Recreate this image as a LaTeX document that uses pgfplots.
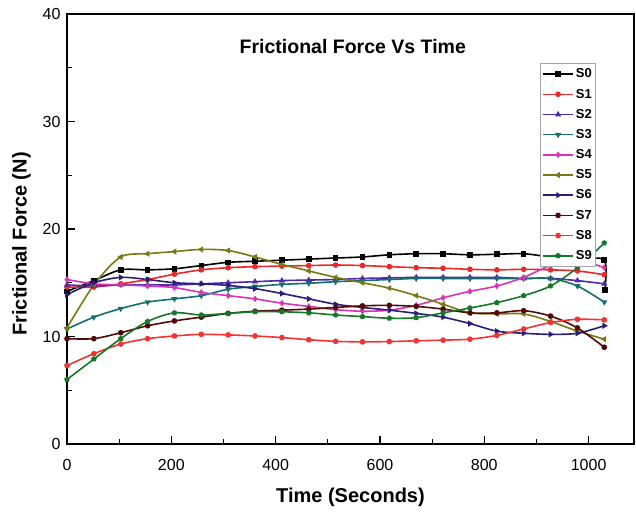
\documentclass[border=0pt]{standalone}
\usepackage{pgfplots}
\pgfplotsset{compat=1.18}
\usepackage{pgfplotstable}
\usepackage{fontspec}
\setmainfont{Liberation Sans}
\definecolor{cS0}{RGB}{0,0,0}
\definecolor{cS1}{RGB}{235,40,40}
\definecolor{cS2}{RGB}{80,40,170}
\definecolor{cS3}{RGB}{20,110,110}
\definecolor{cS4}{RGB}{220,50,180}
\definecolor{cS5}{RGB}{120,120,20}
\definecolor{cS6}{RGB}{40,30,120}
\definecolor{cS7}{RGB}{80,10,10}
\definecolor{cS8}{RGB}{245,50,50}
\definecolor{cS9}{RGB}{20,120,40}
\pgfplotstableread{
x      S1    S2    S3    S4    S5    S6    S7    S8    S9
0      14.6  14.8  10.7  15.3  10.8  13.9  9.8   7.3   6.0
51.5   14.6  14.7  11.8  14.9  14.8  15.0  9.8   8.4   7.9
103    14.9  14.8  12.6  14.8  17.4  15.5  10.35 9.3   9.8
154.5  15.3  14.8  13.2  14.7  17.7  15.3  11.0  9.8   11.4
206    15.8  14.8  13.5  14.55 17.9  15.0  11.45 10.05 12.2
257.5  16.2  14.9  13.8  14.1  18.1  14.9  11.8  10.2  12.0
309    16.4  15.0  14.4  13.8  18.0  14.75 12.15 10.15 12.15
360.5  16.5  15.1  14.65 13.5  17.4  14.45 12.35 10.05 12.3
412    16.55 15.2  14.85 13.1  16.7  14.0  12.45 9.9   12.3
463.5  16.6  15.25 14.95 12.8  16.1  13.5  12.55 9.7   12.2
515    16.65 15.3  15.1  12.5  15.5  13.0  12.7  9.55  12.0
566.5  16.6  15.4  15.2  12.35 15.0  12.7  12.85 9.5   11.85
618    16.5  15.45 15.3  12.45 14.5  12.45 12.9  9.53  11.7
669.5  16.4  15.5  15.4  12.9  13.8  12.15 12.8  9.6   11.75
721    16.35 15.5  15.4  13.6  13.0  11.8  12.55 9.66  12.2
772.5  16.25 15.5  15.4  14.2  12.2  11.2  12.2  9.75  12.65
824    16.2  15.5  15.4  14.7  12.1  10.5  12.2  10.1  13.15
875.5  16.25 15.4  15.4  15.5  12.1  10.3  12.4  10.7  13.8
927    16.2  15.4  15.4  16.6  11.4  10.2  11.9  11.3  14.7
978.5  16.1  15.2  14.7  17.1  10.5  10.3  10.8  11.6  16.4
1030   15.75 14.9  13.2  16.4  9.75  11.0  9.0   11.55 18.7
}\datatable
\pgfplotstableread{
x      S0
0      14.2
51.5   15.2
103    16.2
154.5  16.2
206    16.3
257.5  16.6
309    16.9
360.5  17.0
412    17.1
463.5  17.2
515    17.3
566.5  17.4
618    17.6
669.5  17.7
721    17.7
772.5  17.6
824    17.65
875.5  17.7
927    17.4
978.5  17.2
1030   17.1
1031   14.3
}\datazero
\begin{document}
\begin{tikzpicture}
\begin{axis}[
  at={(0pt,0pt)}, anchor=south west,
  scale only axis,
  width=567pt, height=430pt,
  xmin=0, xmax=1087, ymin=0, ymax=40,
  xtick={0,200,...,1000}, ytick={0,10,...,40},
  minor xtick={100,300,...,900},
  minor ytick={5,15,25,35},
  tick align=inside,
  xtick pos=left, ytick pos=left,
  major tick length=8pt, minor tick length=5pt,
  axis line style={line width=1.5pt},
  tick style={line width=1.2pt, black},
  every tick label/.append style={font=\fontsize{16}{18}\selectfont},
  /pgf/number format/assume math mode=true,
  /pgf/number format/1000 sep={},
  xticklabel style={yshift=-12pt},
  yticklabel style={xshift=-3pt},
  xlabel={\textbf{Time (Seconds)}},
  ylabel={\textbf{Frictional Force (N)}},
  label style={font=\fontsize{20}{22}\selectfont},
  xlabel style={yshift=-10pt},
  ylabel style={yshift=5pt, xshift=-15pt},
  title={\textbf{Frictional Force Vs Time}},
  title style={at={(rel axis cs:0.504,0.911)}, anchor=center, font=\fontsize{19.5}{22}\selectfont},
  legend cell align=left,
  legend style={at={(rel axis cs:0.834,0.885)}, anchor=north west,
    draw=gray!70, line width=0.8pt, font=\fontsize{13}{14}\selectfont\bfseries,
    row sep=5.6pt, inner sep=2pt, inner ysep=3pt},
  legend image code/.code={\draw[mark repeat=2,mark phase=2] plot coordinates {(0pt,0pt) (15pt,0pt) (30pt,0pt)};},
  every axis plot/.append style={line width=1.6pt, smooth, tension=0.5, mark size=2pt},
]
\addplot[color=cS0, mark=square*] table[x=x,y=S0]{\datazero};
\addlegendentry{S0}
\addplot[color=cS1, mark=*] table[x=x,y=S1]{\datatable};
\addlegendentry{S1}
\addplot[color=cS2, mark=triangle*] table[x=x,y=S2]{\datatable};
\addlegendentry{S2}
\addplot[color=cS3, mark=triangle*, mark options={rotate=180}] table[x=x,y=S3]{\datatable};
\addlegendentry{S3}
\addplot[color=cS4, mark=diamond*] table[x=x,y=S4]{\datatable};
\addlegendentry{S4}
\addplot[color=cS5, mark=triangle*, mark options={rotate=90}] table[x=x,y=S5]{\datatable};
\addlegendentry{S5}
\addplot[color=cS6, mark=triangle*, mark options={rotate=-90}] table[x=x,y=S6]{\datatable};
\addlegendentry{S6}
\addplot[color=cS7, mark=*] table[x=x,y=S7]{\datatable};
\addlegendentry{S7}
\addplot[color=cS8, mark=*] table[x=x,y=S8]{\datatable};
\addlegendentry{S8}
\addplot[color=cS9, mark=pentagon*] table[x=x,y=S9]{\datatable};
\addlegendentry{S9}
\end{axis}
\pgfresetboundingbox
\useasboundingbox (-67pt,-70pt) rectangle (569pt,444pt);
\end{tikzpicture}
\end{document}
